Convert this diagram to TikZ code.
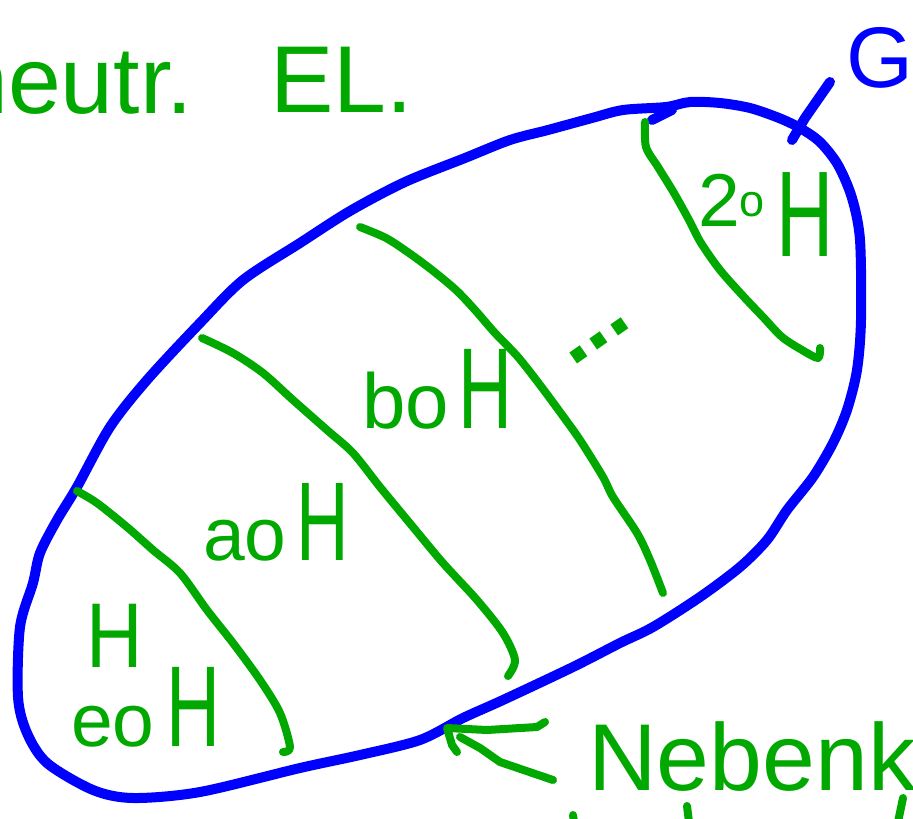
\documentclass[tikz,border=0pt]{standalone}
\usepackage{fontspec}
\setmainfont{Liberation Sans}
\definecolor{grn}{RGB}{0,168,0}
\definecolor{blu}{RGB}{0,0,255}
\newcommand{\fsz}[1]{\fontsize{#1}{#1}\selectfont}
\newcommand{\nH}[1]{\scalebox{0.65}[1]{\fsz{#1}H}}
\begin{document}
\begin{tikzpicture}[x=1pt,y=-1pt,line cap=round,line join=round,
  gline/.style={draw=grn,line width=8pt},
  bline/.style={draw=blu,line width=10pt},
  lab/.style={text=grn,inner sep=0pt,anchor=base west}]
\useasboundingbox (0,0) rectangle (913,819);
% blue outline
\draw[bline] plot[smooth cycle,tension=0.5] coordinates {
 (77,487) (110,427) (147,380) (200,323) (243,280) (300,243) (350,211)
 (405,182) (465,158) (510,140) (548,130) (592,118) (623,110) (666,107)
 (690,102) (720,103) (750,108) (779,118) (800,128) (820,142) (838,165)
 (852,198) (860,240) (861,320) (857,370) (847,410) (833,443) (813,477)
 (787,510) (767,540) (740,567) (700,597) (653,627) (620,643) (573,667)
 (503,700) (463,718) (420,740) (360,755) (300,768) (200,792) (133,798)
 (93,790) (47,763) (27,733) (18,697) (20,627) (33,583) (40,553) (57,520)};
\draw[bline] (652,120) -- (672,110);
% G tick
\draw[bline] (792,140) -- (805,118) -- (830,82);
\node[lab,text=blu] (G) at (846,87) {\fsz{86}G};
% green dividers
\draw[gline] plot[smooth,tension=0.5] coordinates {
 (77,491) (97,503) (127,527) (153,550) (180,573) (207,610) (233,643)
 (260,680) (280,713) (290,747) (283,752)};
\draw[gline] plot[smooth,tension=0.5] coordinates {
 (202,338) (233,353) (263,373) (293,400) (327,430) (353,453) (380,487)
 (413,527) (443,563) (477,600) (503,633) (515,660) (508,676)};
\draw[gline] plot[smooth,tension=0.5] coordinates {
 (360,227) (386,238) (409,253) (432,270) (456,290) (475,310) (495,333)
 (518,357) (540,385) (560,412) (580,440) (603,477) (613,497) (637,533)
 (650,560) (663,593)};
\draw[gline] plot[smooth,tension=0.5] coordinates {
 (645,122) (646,147) (658,167) (674,193) (689,220) (701,243) (720,270)
 (744,297) (763,317) (782,337) (802,350) (818,358) (820,348)};
% labels
\node[lab] (H1) at (86,667) {\scalebox{0.85}[1]{\fsz{92}H}};
\node[lab] (eoH) at (71,746) {\fsz{75}eo\hspace{12pt}\nH{115}};
\node[lab] (aoH) at (203,560) {\fsz{75}ao\hspace{10pt}\nH{112}};
\node[lab] (boH) at (362,428) {\fsz{78}bo\hspace{10pt}\nH{115}};
\node[lab] (twoH) at (698,256) {\raisebox{30pt}{\fsz{75}2\raisebox{10pt}{\fsz{45}o}}\hspace{12pt}\nH{122}};
\node[lab,rotate=35] (dots) at (572,368) {\fsz{90}\bfseries...};
\node[lab] (neutr) at (-45,113) {\fsz{95}neutr.};
\node[lab] (EL) at (270,112) {\fsz{95}EL.};
\node[lab] (neb) at (588,790) {\fsz{95}Nebenk};
% arrow to outline
\coordinate (tip) at (447,728);
\draw[gline] (545,722) -- (537,727) -- (487,730) -- (tip) -- (452,745) -- (457,752);
\draw[gline] (460,737) -- (480,748) -- (500,762) -- (553,780);
% cut-off strokes of the next line
\draw[gline] (573,815) -- (574,822);
\draw[gline] (687,806) -- (689,822);
\draw[gline] (903,798) -- (898,822);
\end{tikzpicture}
\end{document}
